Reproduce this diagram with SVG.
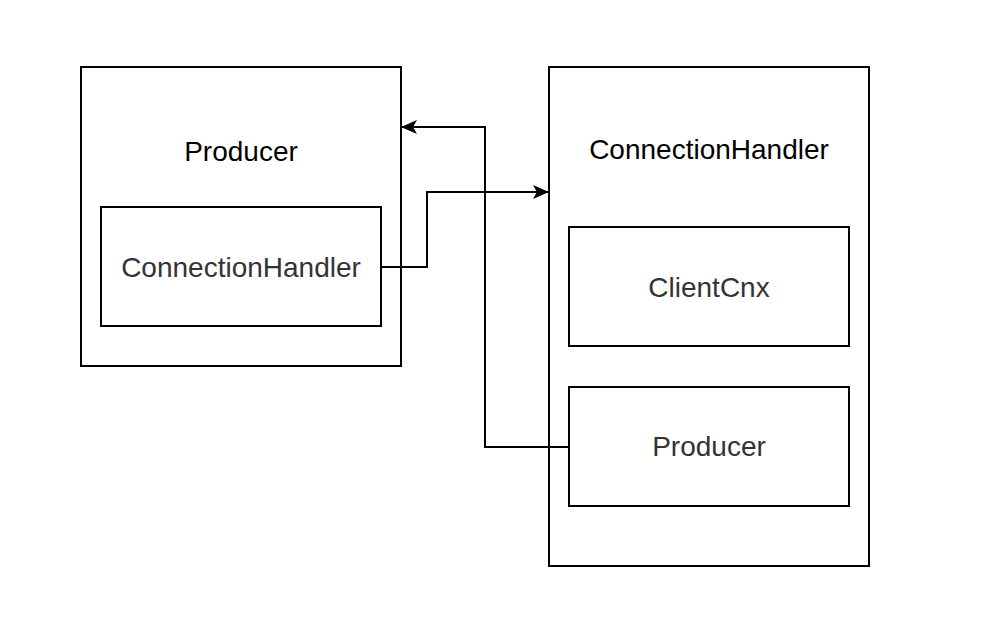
<svg xmlns="http://www.w3.org/2000/svg" width="996" height="630" viewBox="0 0 996 630">
<defs>
<style>
.box{fill:#fff;stroke:#000;stroke-width:2}
.title{font-family:"Liberation Sans",Arial,sans-serif;font-size:28px;fill:#000;text-anchor:middle}
.label{font-family:"Liberation Sans",Arial,sans-serif;font-size:28px;fill:#333;text-anchor:middle}
.edge{fill:none;stroke:#000;stroke-width:2}
</style>
<marker id="arr" viewBox="0 0 16 14" refX="15" refY="7" markerWidth="16" markerHeight="14" markerUnits="userSpaceOnUse" orient="auto">
<path d="M0,0 L16,7 L0,14 L4,7 Z" fill="#000"/>
</marker>
</defs>
<rect width="996" height="630" fill="#fff"/>
<g id="producer">
<rect class="box" x="81" y="67" width="320" height="299"/>
<text class="title" x="241" y="161">Producer</text>
</g>
<g id="producer-connectionhandler">
<rect class="box" x="101" y="207" width="280" height="119"/>
<text class="label" x="241" y="277">ConnectionHandler</text>
</g>
<g id="connectionhandler">
<rect class="box" x="549" y="67" width="320" height="499"/>
<text class="title" x="709" y="159">ConnectionHandler</text>
</g>
<g id="clientcnx">
<rect class="box" x="569" y="227" width="280" height="119"/>
<text class="label" x="709" y="297">ClientCnx</text>
</g>
<g id="handler-producer">
<rect class="box" x="569" y="387" width="280" height="119"/>
<text class="label" x="709" y="456">Producer</text>
</g>
<g id="connectors">
<path class="edge" d="M381,267 H427 V192 H548" marker-end="url(#arr)"/>
<path class="edge" d="M569,447 H485 V127 H402" marker-end="url(#arr)"/>
</g>
</svg>
